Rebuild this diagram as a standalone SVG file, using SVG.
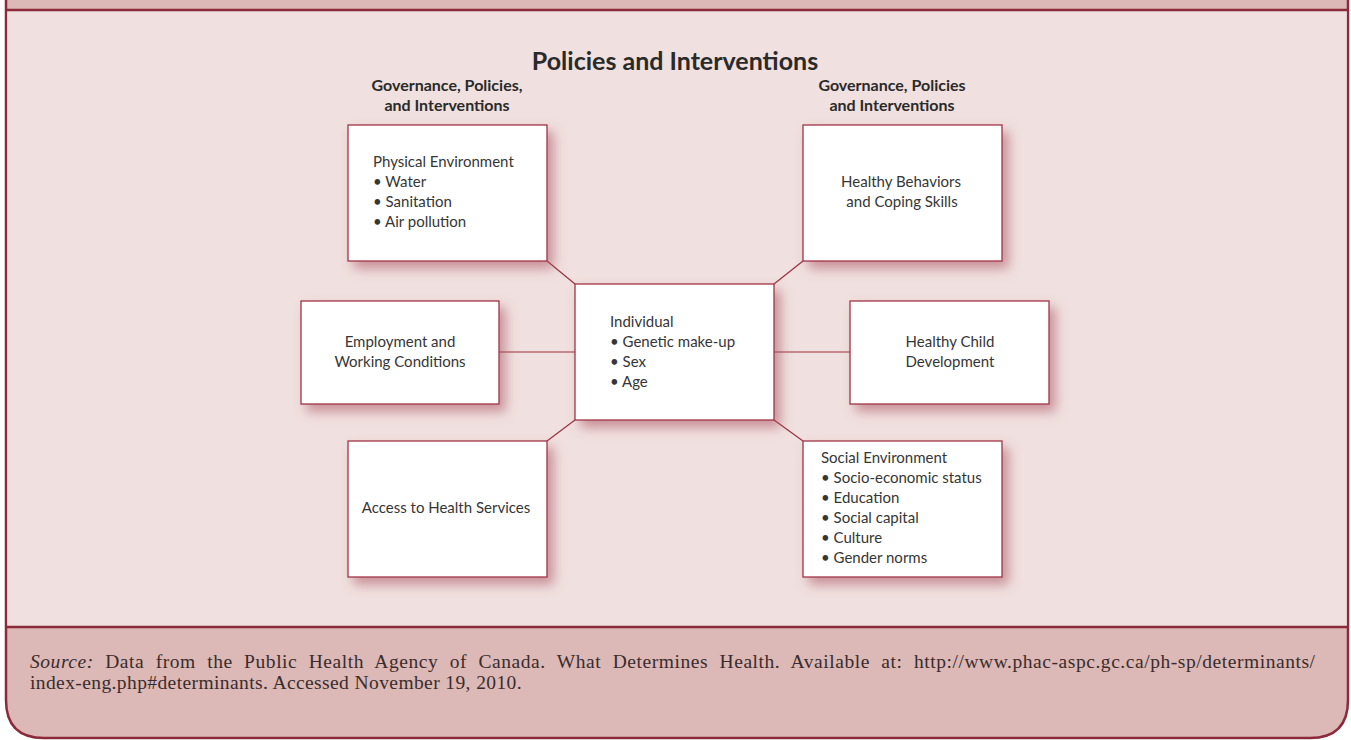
<svg xmlns="http://www.w3.org/2000/svg" width="1351" height="740" viewBox="0 0 1351 740">
  <style>
    .frame { fill: #dcb8b6; stroke: #8b2a3a; stroke-width: 2.5; }
    .panel { fill: #f0e0df; }
    .rule { stroke: #8b2a3a; stroke-width: 2.5; fill: none; }
    .box { fill: #ffffff; stroke: #a03445; stroke-width: 1.3; filter: url(#shadow); }
    .link { stroke: #9b3040; stroke-width: 1.2; fill: none; }
    .title { font-family: "Lato", "Liberation Sans", sans-serif; font-weight: bold; font-size: 25px; fill: #2a2a2a; text-anchor: middle; }
    .sub { font-family: "Lato", "Liberation Sans", sans-serif; font-weight: bold; font-size: 16px; fill: #2a2a2a; text-anchor: middle; }
    .lbl { font-family: "Lato", "Liberation Sans", sans-serif; font-size: 15px; fill: #363636; }
    .mid { text-anchor: middle; }
    .src { font-family: "Liberation Serif", serif; font-size: 19.5px; fill: #3a2c2c; }
  </style>
  <defs>
    <filter id="shadow" x="-20%" y="-20%" width="150%" height="150%">
      <feDropShadow dx="6" dy="7" stdDeviation="6" flood-color="#a8505e" flood-opacity="0.55"/>
    </filter>
  </defs>

  <!-- outer frame with rounded bottom corners -->
  <path class="frame" d="M6,-5 L1348,-5 L1348,700 Q1348,738 1310,738 L44,738 Q6,738 6,700 Z"/>
  <rect class="panel" x="7.25" y="10" width="1339.5" height="617"/>
  <line class="rule" x1="6" y1="10" x2="1348" y2="10"/>
  <line class="rule" x1="6" y1="627" x2="1348" y2="627"/>

  <!-- headings -->
  <text class="title" x="675" y="70">Policies and Interventions</text>
  <text class="sub" x="447" y="91">Governance, Policies,</text>
  <text class="sub" x="447" y="111">and Interventions</text>
  <text class="sub" x="892" y="91">Governance, Policies</text>
  <text class="sub" x="892" y="111">and Interventions</text>

  <!-- connectors -->
  <g id="connectors">
    <line class="link" x1="547" y1="261" x2="575" y2="284"/>
    <line class="link" x1="803" y1="261" x2="774" y2="284"/>
    <line class="link" x1="499" y1="352" x2="575" y2="352"/>
    <line class="link" x1="774" y1="352" x2="850" y2="352"/>
    <line class="link" x1="575" y1="420" x2="547" y2="441"/>
    <line class="link" x1="774" y1="420" x2="803" y2="441"/>
  </g>

  <g id="physical-environment">
    <rect class="box" x="348" y="125" width="199" height="136"/>
    <text class="lbl" x="373" y="167">Physical Environment</text>
    <text class="lbl" x="373" y="187">• Water</text>
    <text class="lbl" x="373" y="207">• Sanitation</text>
    <text class="lbl" x="373" y="227">• Air pollution</text>
  </g>

  <g id="healthy-behaviors">
    <rect class="box" x="803" y="125" width="199" height="136"/>
    <text class="lbl mid" x="901" y="187">Healthy Behaviors</text>
    <text class="lbl mid" x="902" y="207">and Coping Skills</text>
  </g>

  <g id="employment">
    <rect class="box" x="301" y="301" width="198" height="103"/>
    <text class="lbl mid" x="400" y="347">Employment and</text>
    <text class="lbl mid" x="400" y="367">Working Conditions</text>
  </g>

  <g id="individual">
    <rect class="box" x="575" y="284" width="199" height="136"/>
    <text class="lbl" x="610" y="327">Individual</text>
    <text class="lbl" x="610" y="347">• Genetic make-up</text>
    <text class="lbl" x="610" y="367">• Sex</text>
    <text class="lbl" x="610" y="387">• Age</text>
  </g>

  <g id="healthy-child-development">
    <rect class="box" x="850" y="301" width="199" height="103"/>
    <text class="lbl mid" x="950" y="347">Healthy Child</text>
    <text class="lbl mid" x="950" y="367">Development</text>
  </g>

  <g id="access-health-services">
    <rect class="box" x="348" y="441" width="199" height="136"/>
    <text class="lbl mid" x="446" y="513">Access to Health Services</text>
  </g>

  <g id="social-environment">
    <rect class="box" x="803" y="441" width="199" height="136"/>
    <text class="lbl" x="821" y="463">Social Environment</text>
    <text class="lbl" x="821" y="483">• Socio-economic status</text>
    <text class="lbl" x="821" y="503">• Education</text>
    <text class="lbl" x="821" y="523">• Social capital</text>
    <text class="lbl" x="821" y="543">• Culture</text>
    <text class="lbl" x="821" y="563">• Gender norms</text>
  </g>

  <!-- source note, first line justified -->
  <text class="src" x="30" y="668" word-spacing="6" textLength="1285" lengthAdjust="spacing"><tspan font-style="italic">Source:</tspan> Data from the Public Health Agency of Canada. What Determines Health. Available at: http://www.phac-aspc.gc.ca/ph-sp/determinants/</text>
  <text class="src" x="30" y="689" letter-spacing="0.4">index-eng.php#determinants. Accessed November 19, 2010.</text>
</svg>
